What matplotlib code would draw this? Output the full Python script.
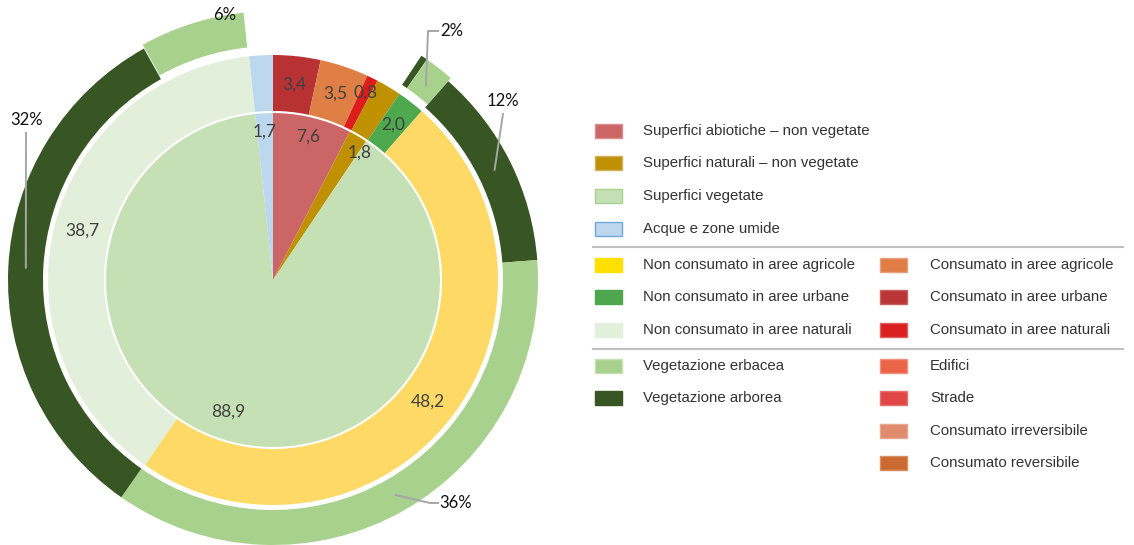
import numpy as np
import matplotlib
matplotlib.use("Agg")
import matplotlib.pyplot as plt
from matplotlib import font_manager
from matplotlib.patches import Rectangle, Circle
from matplotlib.lines import Line2D

# ---------------- data ----------------
inner_names = ["Superfici abiotiche – non vegetate", "Superfici naturali – non vegetate",
               "Superfici vegetate", "Acque e zone umide"]
inner_values = [7.6, 1.8, 88.9, 1.7]

middle_names = ["Consumato in aree urbane", "Consumato in aree agricole", "Consumato in aree naturali",
                "Superfici naturali – non vegetate", "Non consumato in aree urbane",
                "Non consumato in aree agricole", "Non consumato in aree naturali", "Acque e zone umide"]
middle_values = [3.4, 3.5, 0.8, 1.8, 2.0, 48.2, 38.7, 1.7]

outer_names = ["", "Vegetazione arborea", "Vegetazione erbacea", "Vegetazione arborea",
               "Vegetazione erbacea", "Vegetazione arborea", "Vegetazione erbacea", ""]
outer_values = [9.3, 0.4, 1.8, 12.3, 35.9, 32.2, 6.4, 1.7]

legend_group1 = ["Superfici abiotiche – non vegetate", "Superfici naturali – non vegetate",
                 "Superfici vegetate", "Acque e zone umide"]
legend_group2_left = ["Non consumato in aree agricole", "Non consumato in aree urbane",
                      "Non consumato in aree naturali"]
legend_group2_right = ["Consumato in aree agricole", "Consumato in aree urbane",
                       "Consumato in aree naturali"]
legend_group3_left = ["Vegetazione erbacea", "Vegetazione arborea"]
legend_group3_right = ["Edifici", "Strade", "Consumato irreversibile", "Consumato reversibile"]

# ---------------- styles ----------------
inner_colors = ["#CC6666", "#BF9000", "#C5E0B4", "#BDD7EE"]
middle_colors = ["#B83133", "#DF7F45", "#DD1C1C", "#BF9000", "#4EA84E", "#FFD966", "#E2EFDA", "#BDD7EE"]
outer_colors = ["none", "#375623", "#A9D18E", "#375623", "#A9D18E", "#375623", "#A9D18E", "none"]
outer_explode = [0, 0.015, 0.015, 0, 0, 0, 0.015, 0]

legend_colors = {
    "Superfici abiotiche – non vegetate": ("#CC6666", "#D98C8C"),
    "Superfici naturali – non vegetate": ("#BF9000", "#D0B060"),
    "Superfici vegetate": ("#C5E0B4", "#A9D18E"),
    "Acque e zone umide": ("#BDD7EE", "#6FA8DC"),
    "Non consumato in aree agricole": ("#FFE000", "#FFE000"),
    "Non consumato in aree urbane": ("#4EA64E", "#4EA64E"),
    "Non consumato in aree naturali": ("#E2EFDA", "#E2EFDA"),
    "Consumato in aree agricole": ("#DF7D45", "#E8A080"),
    "Consumato in aree urbane": ("#BA3535", "#C86060"),
    "Consumato in aree naturali": ("#DA1F1F", "#E06060"),
    "Vegetazione erbacea": ("#A9D18E", "#C5E0B4"),
    "Vegetazione arborea": ("#375623", "#375623"),
    "Edifici": ("#EB6448", "#F09080"),
    "Strade": ("#E04646", "#E87070"),
    "Consumato irreversibile": ("#E08A6E", "#E8A890"),
    "Consumato reversibile": ("#CA6A30", "#D89060"),
}

W, H = 1134, 545
CX, CY, SCALE = 273, 280, 265.0  # pixel centre and pixels per data unit

R_INNER = 168 / SCALE
R_MID_OUT = 225 / SCALE
R_OUT_IN = 230 / SCALE
R_OUT = 1.0

names = {f.name for f in font_manager.fontManager.ttflist}
if "Liberation Sans Narrow" in names:
    LEG_FONT, LEG_FS = "Liberation Sans Narrow", 13
else:
    LEG_FONT, LEG_FS = "Liberation Sans", 10.8
LBL_FONT = "Lato" if "Lato" in names else "DejaVu Sans"

fig = plt.figure(figsize=(W / 100, H / 100), dpi=100)
ax = fig.add_axes([0, 0, 1, 1])

ax.pie(inner_values, radius=R_INNER, colors=inner_colors, startangle=90, counterclock=False,
       wedgeprops=dict(linewidth=0))
ax.pie(middle_values, radius=R_MID_OUT, colors=middle_colors, startangle=90, counterclock=False,
       wedgeprops=dict(width=R_MID_OUT - R_INNER, linewidth=0))
ax.pie(outer_values, radius=R_OUT, colors=outer_colors, startangle=90, counterclock=False,
       explode=outer_explode, wedgeprops=dict(width=R_OUT - R_OUT_IN, linewidth=0))
ax.add_patch(Circle((0, 0), R_INNER, facecolor="none", edgecolor="white", linewidth=1.5, zorder=5))

ax.set_aspect("auto")
ax.set_xlim(-CX / SCALE, (W - CX) / SCALE)
ax.set_ylim(-(H - CY) / SCALE, CY / SCALE)
ax.axis("off")


def mid_angles(vals):
    c = np.cumsum([0] + list(vals))
    return [(c[i] + c[i + 1]) / 2 / 100 * 360 for i in range(len(vals))]


def polar(theta_deg, r):
    t = np.deg2rad(theta_deg)
    return r * np.sin(t), r * np.cos(t)


def fmt(v):
    return f"{v:.1f}".replace(".", ",")


lbl_kw = dict(ha="center", va="center", color="#404040", fontsize=12.5, family=LBL_FONT, zorder=10)

# inner labels: (radius, angle nudge)
inner_lbl_layout = [(0.555, 0), (0.58, 3.5), (0.525, 5), (0.56, 0)]
for v, th, (r, dth) in zip(inner_values, mid_angles(inner_values), inner_lbl_layout):
    x, y = polar(th + dth, r)
    ax.text(x, y, fmt(v), **lbl_kw)

# middle labels (None = no label)
middle_lbl_layout = [(0.742, 0), (0.742, 0), (0.79, 0), None, (0.742, 0), (0.742, 0), (0.742, 0), None]
for v, th, lay in zip(middle_values, mid_angles(middle_values), middle_lbl_layout):
    if lay is None:
        continue
    x, y = polar(th + lay[1], lay[0])
    ax.text(x, y, fmt(v), **lbl_kw)

# outer percentage labels with leader lines: (label pos px, leader path px) ; None = no label
outer_lbl_layout = [None, None,
                    ((452, 31), [(438, 31), (428, 31)]),
                    ((503, 101), [(503, 114)]),
                    ((456, 503), [(438, 503), (430, 503)]),
                    ((27, 120), [(26, 133)]),
                    ((225, 15), None),
                    None]
r_lead = (R_OUT + R_OUT_IN) / 2
for v, th, lay in zip(outer_values, mid_angles(outer_values), outer_lbl_layout):
    if lay is None:
        continue
    (px, py), path = lay
    tx, ty = (px - CX) / SCALE, (CY - py) / SCALE
    ax.text(tx, ty, f"{int(v + 0.5)}%", ha="center", va="center", color="#111111",
            fontsize=12, family=LBL_FONT, zorder=10)
    if path:
        pts = [((qx - CX) / SCALE, (CY - qy) / SCALE) for qx, qy in path]
        pts.append(polar(th, r_lead))
        xs, ys = zip(*pts)
        ax.add_line(Line2D(xs, ys, color="#A6A6A6", linewidth=1.4, zorder=9))

# ---------------- legend (pixel layout) ----------------
def fx(px):
    return px / W


def fy(py):
    return 1 - py / H


PW, PH = 27, 14


def leg_item(name, px, py, text_x):
    face, edge = legend_colors[name]
    fig.patches.append(Rectangle((fx(px), fy(py + PH / 2)), PW / W, PH / H, transform=fig.transFigure,
                                 facecolor=face, edgecolor=edge, linewidth=1.0))
    fig.text(fx(text_x), fy(py), name, ha="left", va="center", fontsize=LEG_FS,
             family=LEG_FONT, color="#333333")


rows1 = [131, 163, 196, 229]
for name, y in zip(legend_group1, rows1):
    leg_item(name, 595, y, 643)
rows2 = [265, 297, 330]
for name, y in zip(legend_group2_left, rows2):
    leg_item(name, 595, y, 643)
for name, y in zip(legend_group2_right, rows2):
    leg_item(name, 880, y, 930)
rows3 = [366, 398, 431, 463]
for name, y in zip(legend_group3_left, rows3):
    leg_item(name, 595, y, 643)
for name, y in zip(legend_group3_right, rows3):
    leg_item(name, 880, y, 930)

for sep_y in (247, 349):
    fig.add_artist(Line2D([fx(593), fx(1123)], [fy(sep_y), fy(sep_y)], transform=fig.transFigure,
                          color="#C0C0C0", linewidth=1.5))

fig.savefig("out.png", dpi=100, facecolor="white")
